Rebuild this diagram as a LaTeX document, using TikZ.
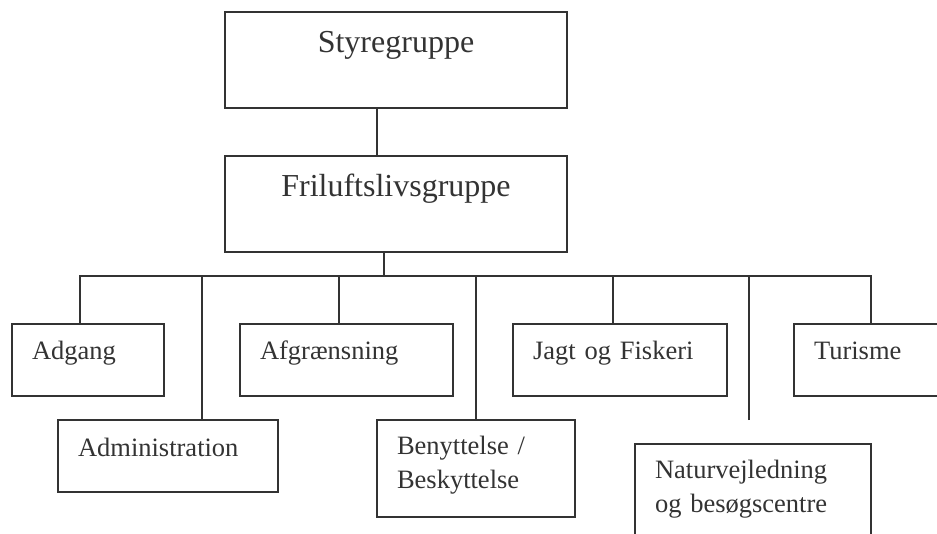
\documentclass[tikz,border=0pt]{standalone}
\usepackage{fontspec}
\setmainfont{Liberation Serif}
\usepackage{tikz}
\usetikzlibrary{positioning}

\tikzset{
  gruppe/.style={rectangle, draw=black!80, line width=1.6pt, text=black!80, anchor=north west, outer sep=0pt, inner xsep=0pt, inner ysep=0pt, minimum width=342pt, text height=41pt, text depth=55pt, font=\fontsize{32}{38}\selectfont},
  enhed/.style={rectangle, draw=black!80, line width=1.6pt, text=black!80, anchor=north west, outer sep=0pt, inner xsep=20pt, inner ysep=0pt, align=left, font=\fontsize{26.5}{34}\selectfont},
  forbind/.style={draw=black!80, line width=1.6pt}
}

\begin{document}
\begin{tikzpicture}[x=1pt, y=-1pt]

\useasboundingbox (0,0) rectangle (937,534);
\clip (0,0) rectangle (937,534);

\node at (225,12) [gruppe] (sty) {Styregruppe};
\node at (225,156) [gruppe] (fri) {Friluftslivsgruppe};

% first row
\node at (12,324) [enhed, text width=112pt, text height=36pt, text depth=36pt] (adg) {Adgang};
\node at (240,324) [enhed, text width=173pt, text height=36pt, text depth=36pt] (afg) {Afgrænsning};
\node at (513,324) [enhed, text width=174pt, text height=36pt, text depth=36pt] (jag) {Jagt og Fiskeri};
\node at (794,324) [enhed, text width=174pt, text height=36pt, text depth=36pt] (tur) {Turisme};

% second row
\node at (58,420) [enhed, text width=180pt, text height=36pt, text depth=36pt] (adm) {Administration};
\node at (377,420) [enhed, text width=158pt, text height=34pt, text depth=63pt] (ben) {Benyttelse /\\Beskyttelse};
\node at (635,444) [enhed, text width=196pt, text height=34pt, text depth=63pt] (nat) {Naturvejledning\\og besøgscentre};

\coordinate (bus) at (384,276);
\coordinate (natend) at (749,420);

\draw [forbind] ([xshift=-19pt]sty.south) -- ([xshift=-19pt]fri.north);
\draw [forbind] ([xshift=-12pt]fri.south) -- (bus);
\draw [forbind] ([xshift=68pt]adg.north west) |- (bus) -| ([xshift=77pt]tur.north west);
\draw [forbind] ([xshift=144pt]adm.north west) |- (bus);
\draw [forbind] ([xshift=99pt]afg.north west) |- (bus);
\draw [forbind] ([xshift=99pt]ben.north west) |- (bus);
\draw [forbind] ([xshift=100pt]jag.north west) |- (bus);
\draw [forbind] (natend) |- (bus);

\end{tikzpicture}
\end{document}
